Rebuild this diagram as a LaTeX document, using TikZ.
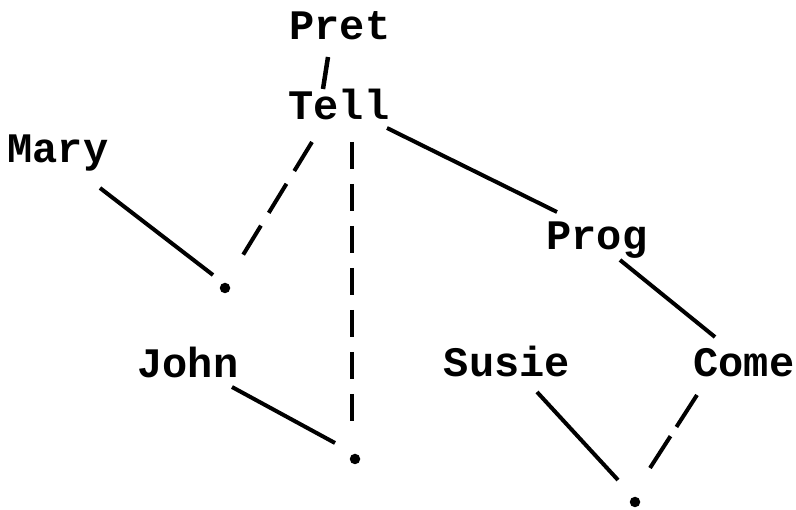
\documentclass[tikz,border=0pt]{standalone}
\usepackage{fontspec}
\setmonofont{Liberation Mono}
\begin{document}
\begin{tikzpicture}[x=1pt,y=-1pt,
  lbl/.style={font=\ttfamily\bfseries\fontsize{42}{48}\selectfont, inner sep=0pt, anchor=base},
  dotn/.style={circle, fill, inner sep=0pt, minimum size=10.5pt},
  edge/.style={line width=4pt},
  dshd/.style={line width=4pt, dash pattern=on 34pt off 15pt}]
\useasboundingbox (0,0) rectangle (796,510);
% labels
\node[lbl] (pret)  at (340,40)  {Pret};
\node[lbl] (tell)  at (339,120) {Tell};
\node[lbl] (mary)  at (58,163)  {Mary};
\node[lbl] (prog)  at (597,250) {Prog};
\node[lbl] (john)  at (188,378) {John};
\node[lbl] (susie) at (507,377) {Susie};
\node[lbl] (come)  at (744,377) {Come};
% dots
\node[dotn] (d1) at (225,288) {};
\node[dotn] (d2) at (355,459) {};
\node[dotn] (d3) at (635,502) {};
% connectors
\draw[edge, line width=4.5pt] ([shift={(-12,17)}]pret.base) -- ([shift={(-16,-31)}]tell.base);
\draw[dshd] ([shift={(-27,22)}]tell.base) -- ([shift={(18,-33)}]d1.center);
\draw[dshd, dash pattern=on 27pt off 15pt] ([shift={(13,22)}]tell.base) -- ([shift={(-3,-36)}]d2.center);
\draw[edge] ([shift={(48,8)}]tell.base) -- ([shift={(-40,-38)}]prog.base);
\draw[edge] ([shift={(42,25)}]mary.base) -- ([shift={(-12,-13)}]d1.center);
\draw[edge] ([shift={(23,10)}]prog.base) -- ([shift={(-29,-40)}]come.base);
\draw[edge] ([shift={(44,9)}]john.base) -- ([shift={(-20,-16)}]d2.center);
\draw[edge] ([shift={(30,15)}]susie.base) -- ([shift={(-17,-22)}]d3.center);
\draw[dshd, dash pattern=on 38pt off 11pt] ([shift={(-47,18)}]come.base) -- ([shift={(15,-34)}]d3.center);
\end{tikzpicture}
\end{document}
